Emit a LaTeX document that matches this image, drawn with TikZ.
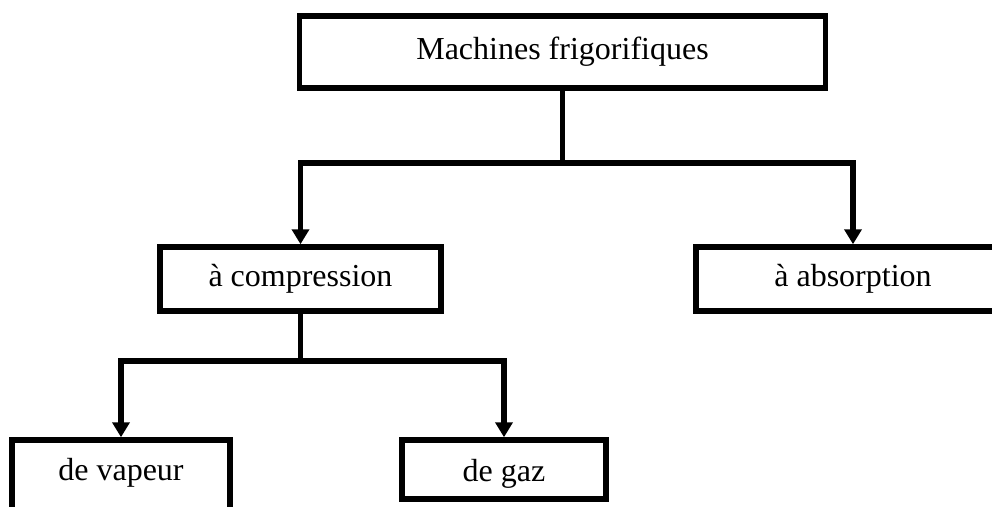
\documentclass[tikz,border=0pt]{standalone}
\usepackage{fontspec}
\setmainfont{Liberation Serif}
\usetikzlibrary{arrows.meta}
\begin{document}
\begin{tikzpicture}[x=1pt,y=-1pt,
  box/.style={draw, line width=5.5pt, inner sep=0pt, rectangle,
    font=\fontsize{32}{38}\selectfont},
  link/.style={line width=5.5pt},
  arrowlink/.style={link, -{Triangle[width=17pt,length=15pt]}}]
\clip (0,0) rectangle (992,506);
% category boxes
\node[box, minimum width=526pt, minimum height=72pt] (top) at (562.5,52) {Machines frigorifiques};
\node[box, minimum width=281pt, minimum height=64pt] (comp) at (300.5,279) {à compression};
\node[box, minimum width=314pt, minimum height=64pt] (abs) at (853,279) {à absorption};
\node[box, minimum width=218pt, minimum height=75pt] (vap) at (121,477.5) {\raisebox{5pt}[\height][\depth]{de vapeur}};
\node[box, minimum width=204pt, minimum height=59pt] (gaz) at (504,469.5) {\raisebox{-4pt}[\height][\depth]{de gaz}};
% branching points
\coordinate (j1) at (562.5,163);
\coordinate (j2) at (300.5,361);
% connectors
\draw[link] (top.south) -- (j1);
\draw[arrowlink] (j1) -| (comp.north);
\draw[arrowlink] (j1) -| (abs.north);
\draw[link] (comp.south) -- (j2);
\draw[arrowlink] (j2) -| (vap.north);
\draw[arrowlink] (j2) -| (gaz.north);
\end{tikzpicture}
\end{document}
